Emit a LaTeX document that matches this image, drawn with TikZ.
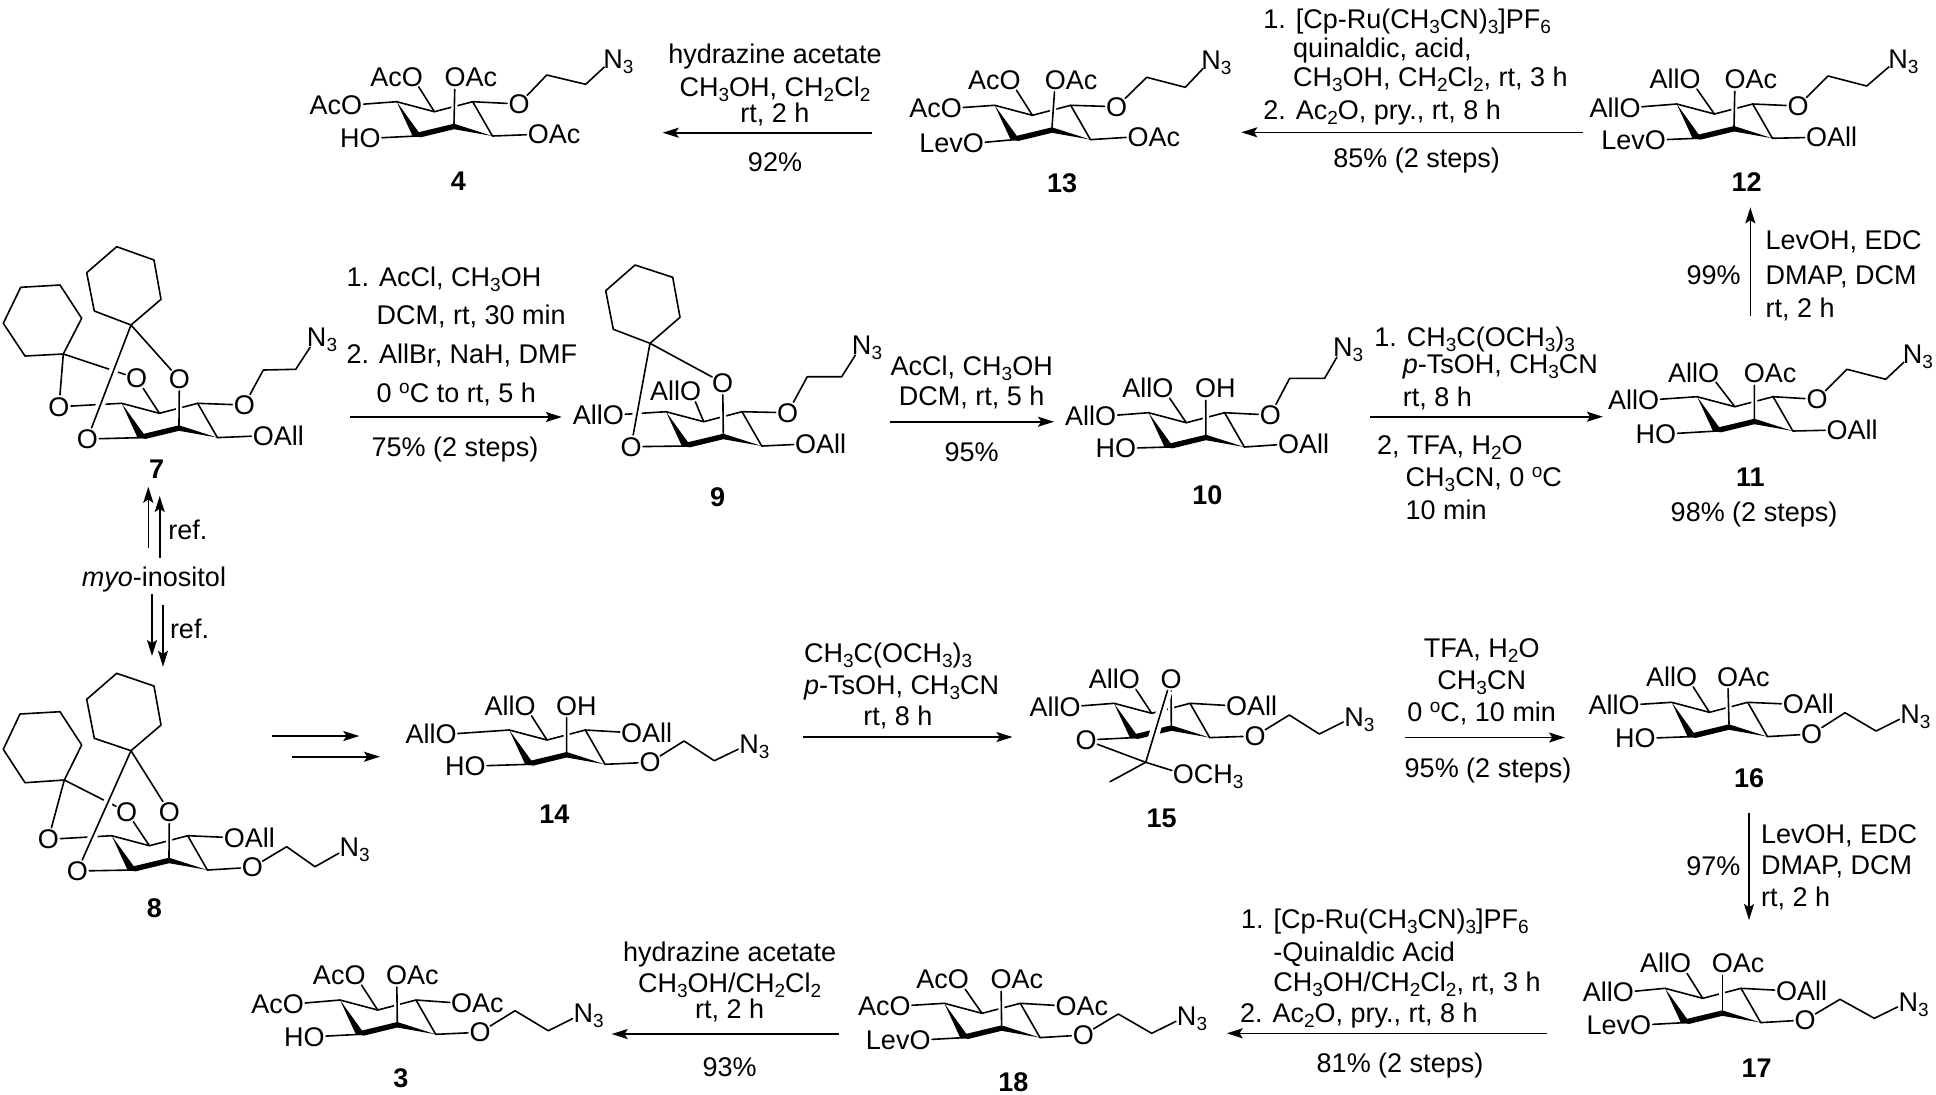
\documentclass[tikz,border=0pt]{standalone}
\usepackage{fontspec}
\setmainfont{Liberation Sans}
\usetikzlibrary{arrows.meta}
\newcommand{\chemfont}{\fontsize{13.5pt}{16pt}\selectfont}
\newcommand{\sbs}[1]{\raisebox{-2.6pt}{\fontsize{9.5pt}{10pt}\selectfont #1}}
\newcommand{\sps}[1]{\raisebox{4.6pt}{\fontsize{9.5pt}{10pt}\selectfont #1}}
\tikzset{
  x=0.5pt,y=-0.5pt,
  atom/.style={circle,inner sep=0pt,outer sep=0pt,minimum size=12pt,font=\chemfont},
  sidetext/.style={inner sep=0pt,outer sep=0pt,font=\chemfont},
  rtext/.style={inner sep=0pt,outer sep=0pt,font=\chemfont},
  cmpd/.style={inner sep=0pt,outer sep=0pt,font=\chemfont\bfseries},
  bond/.style={line width=0.8pt,line join=round,line cap=round},
  halo/.style={bond,preaction={draw=white,line width=3pt}},
  bighalo/.style={bond,preaction={draw=white,line width=#1}},
  rxnarrow/.style={line width=0.8pt,-{Stealth[length=8pt,width=5pt,inset=1.6pt]}},
}
% atoms
\newcommand{\atomO}[3]{\node[atom] (#1) at (#2,#3) {\makebox[0pt]{O}};}
\newcommand{\atomL}[4]{\atomO{#1}{#2}{#3}\node[sidetext,anchor=base east] (#1s) at ([xshift=-5.25pt]#1.base) {#4};}
\newcommand{\atomR}[4]{\atomO{#1}{#2}{#3}\node[sidetext,anchor=base west] (#1s) at ([xshift=5.25pt]#1.base) {#4};}
\newcommand{\atomN}[3]{\node[atom] (#1) at (#2,#3) {\makebox[0pt]{N}};\node[sidetext,anchor=base west] (#1s) at ([xshift=4.9pt]#1.base) {\sbs{3}};}
% ring coordinates
\newcommand{\ringat}[3]{%
  \coordinate (#1a) at (#2,#3);
  \coordinate (#1b) at ([shift={(37.7,10)}]#2,#3);
  \coordinate (#1c) at ([shift={(76,0)}]#2,#3);
  \coordinate (#1d) at ([shift={(95.7,34.3)}]#2,#3);
  \coordinate (#1e) at ([shift={(57.3,22)}]#2,#3);
  \coordinate (#1f) at ([shift={(20,34.3)}]#2,#3);
  \coordinate (#1p) at ([shift={(22,30.5)}]#2,#3);
  \coordinate (#1q) at ([shift={(57.3,27.5)}]#2,#3);
  \coordinate (#1r) at ([shift={(24,35.6)}]#2,#3);
  \coordinate (#1s) at ([shift={(16,34.6)}]#2,#3);
}
% chair bonds; nodes #1L,T,M,R,D,F must exist
\newcommand{\chairbonds}[1]{%
  \draw[bond] (#1a) -- (#1b) -- (#1c) -- (#1d);
  \draw[bond] (#1a) -- (#1L);
  \draw[bond] (#1b) -- (#1T);
  \draw[bond] (#1c) -- (#1R);
  \draw[bond] (#1d) -- (#1D);
  \draw[bond] (#1f) -- (#1F);
  \draw[halo] (#1e) -- (#1M);
  \fill[line join=round] (#1a) -- (#1p) -- (#1e) -- (#1d) -- (#1q) -- (#1r) -- (#1s) -- cycle;
}
\newcommand{\chainN}[7]{% mol, from node, p1, p2, Nx,Ny
  \coordinate (#1u) at (#3,#4);\coordinate (#1v) at (#5,#6);
  \draw[bond] (#2) -- (#1u) -- (#1v) -- (#1N);
}
\newcommand{\rtxt}[5]{\node[rtext,anchor=#4] (#1) at ([yshift=-4.85pt]#2,#3) {#5};}
\newcommand{\cmpdlabel}[4]{\node[cmpd] (#1) at (#2,#3) {#4};}
\newcommand{\rxn}[5]{\coordinate (#1s) at (#2,#3);\coordinate (#1t) at (#4,#5);\draw[rxnarrow] (#1s) -- (#1t);}
\begin{document}
\begin{tikzpicture}
\useasboundingbox (0,0) rectangle (1936,1094);

% ---------- 4
\ringat{mf}{396.7}{101.7}
\atomL{mfL}{351.7}{105}{Ac}\atomL{mfT}{412.3}{76.7}{Ac}\atomR{mfM}{455}{77.3}{Ac}
\atomO{mfR}{519}{104}\atomR{mfD}{538.3}{134.3}{Ac}\atomL{mfF}{370}{138.3}{H}
\atomN{mfN}{613}{59}
\chairbonds{mf}\chainN{mf}{mfR}{546.7}{75}{585.7}{84.3}{}
\cmpdlabel{cFour}{458.3}{181.7}{4}

% ---------- 13
\ringat{mg}{994.7}{105.3}
\atomL{mgL}{951.3}{108.3}{Ac}\atomL{mgT}{1010}{80}{Ac}\atomR{mgM}{1055.3}{80}{Ac}
\atomO{mgR}{1116.7}{106.7}\atomR{mgD}{1138}{136.7}{Ac}\atomL{mgF}{973.3}{143.3}{Lev}
\atomN{mgN}{1211}{60}
\chairbonds{mg}\chainN{mg}{mgR}{1146.7}{77.3}{1185.3}{87.3}{}
\cmpdlabel{cThirteen}{1062}{183}{13}

% ---------- 12
\ringat{mh}{1676.7}{104}
\atomL{mhL}{1630}{107.7}{All}\atomL{mhT}{1690}{79.3}{All}\atomR{mhM}{1735}{79.3}{Ac}
\atomO{mhR}{1798}{106}\atomR{mhD}{1816.7}{137.3}{All}\atomL{mhF}{1655.3}{140}{Lev}
\atomN{mhN}{1898}{59}
\chairbonds{mh}\chainN{mh}{mhR}{1828}{76}{1866.7}{86}{}
\cmpdlabel{cTwelve}{1746.7}{181.7}{12}

% ---------- 11
\ringat{mi}{1697.1}{396.7}
\atomL{miL}{1648.6}{400}{All}\atomL{miT}{1708.6}{372.7}{All}\atomR{miM}{1754.3}{373.3}{Ac}
\atomO{miR}{1817}{399.3}\atomR{miD}{1837}{430}{All}\atomL{miF}{1665.7}{434}{H}
\atomN{miN}{1912.6}{354}
\chairbonds{mi}\chainN{mi}{miR}{1847}{369.3}{1885.7}{379.3}{}
\cmpdlabel{cEleven}{1750.3}{476.7}{11}

% ---------- 10
\ringat{mj}{1148.6}{412.7}
\atomL{mjL}{1105.7}{416}{All}\atomL{mjT}{1162.9}{388.3}{All}\atomR{mjM}{1205.7}{388.3}{H}
\atomO{mjR}{1270.3}{415}\atomR{mjD}{1288.6}{444}{All}\atomL{mjF}{1125.7}{448.3}{H}
\atomN{mjN}{1342.9}{346.7}
\chairbonds{mj}\chainN{mj}{mjR}{1289.7}{378.3}{1324.6}{378.3}{}
\cmpdlabel{cTen}{1207.4}{495}{10}

% ---------- 9
\ringat{mk}{666}{411.7}
\atomL{mkL}{613.3}{415}{All}\atomL{mkT}{690.7}{390.7}{All}\atomO{mkM}{722.7}{382.7}
\atomO{mkR}{787.7}{412.7}\atomR{mkD}{805.7}{444}{All}\atomO{mkF}{631}{446.7}
\atomN{mkN}{861.7}{345}
\chairbonds{mk}\chainN{mk}{mkR}{807.3}{376.7}{841.7}{376.7}{}
\coordinate (mkspiro) at (650,343.3);
\draw[bighalo=4.5pt] (mkspiro) -- (mkF);
\draw[bond] (mkspiro) -- (mkM);
\draw[bond] (mkspiro) -- (613.3,329.3) -- (605.7,290.7) -- (635,265) -- (672.7,277.3) -- (680,317.3) -- cycle;
\cmpdlabel{cNine}{717.7}{496.7}{9}

% ---------- 7
\ringat{ma}{121.7}{403.3}
\atomO{maL}{59}{406.7}\atomO{maT}{136.7}{378.3}\atomO{maM}{179.3}{379}
\atomO{maR}{244.3}{405}\atomR{maD}{263.3}{435.7}{All}\atomO{maF}{87.3}{439}
\atomN{maN}{316.7}{337.3}
\chairbonds{ma}\chainN{ma}{maR}{263.3}{370}{295.7}{369.3}{}
\coordinate (masp) at (63.3,354);
\coordinate (maspt) at (131,325);
\draw[bond] (masp) -- (maL);
\draw[bond] (masp) -- (maT);
\draw[bighalo=4.5pt] (maspt) -- (maF);
\draw[bond] (maspt) -- (maM);
\draw[bond] (masp) -- (25,356) -- (3.3,323.3) -- (20.7,287.3) -- (60,285) -- (81.7,318.3) -- cycle;
\draw[bond] (maspt) -- (94.3,311) -- (86.7,272.7) -- (116.7,246.7) -- (154,260) -- (161,299.3) -- cycle;
\cmpdlabel{cSeven}{156.7}{469}{7}

% ---------- 8
\ringat{mb}{111.7}{835.7}
\atomO{mbL}{48.3}{839.3}\atomO{mbT}{126.7}{811.7}\atomO{mbM}{169.3}{811.7}
\atomR{mbR}{234.3}{837.7}{All}\atomO{mbD}{252.3}{867.3}\atomO{mbF}{77.3}{871}
\atomN{mbN}{349.3}{847.3}
\chairbonds{mb}\chainN{mb}{mbD}{286.7}{846.7}{315}{866.7}{}
\coordinate (mbsp) at (64.3,780);
\coordinate (mbspt) at (131,750.7);
\draw[bond] (mbsp) -- (mbL);
\draw[bond] (mbsp) -- (mbT);
\draw[bighalo=4.5pt] (mbspt) -- (mbF);
\draw[bond] (mbspt) -- (mbM);
\draw[bond] (mbsp) -- (25,782.7) -- (3.3,749.3) -- (20,714) -- (60,711.7) -- (81.7,745) -- cycle;
\draw[bond] (mbspt) -- (94.3,738.3) -- (86.7,699.3) -- (116.7,673.3) -- (154,686) -- (161,725) -- cycle;
\cmpdlabel{cEight}{154.3}{908.3}{8}

% ---------- 14
\ringat{mc}{509.3}{730}
\atomL{mcL}{446}{734.3}{All}\atomL{mcT}{525}{705.7}{All}\atomR{mcM}{566.7}{705.7}{H}
\atomR{mcR}{631.7}{732.7}{All}\atomO{mcD}{650}{762.3}\atomL{mcF}{475}{766}{H}
\atomN{mcN}{749}{744}
\chairbonds{mc}\chainN{mc}{mcD}{684}{741}{714.3}{760.7}{}
\cmpdlabel{cFourteen}{554.3}{814}{14}

% ---------- 15
\ringat{md}{1114}{703.3}
\atomL{mdL}{1070}{706.7}{All}\atomL{mdT}{1129.3}{679.3}{All}\atomO{mdM}{1171}{679}
\atomR{mdR}{1236.7}{706}{All}\atomO{mdD}{1255}{736}\atomO{mdF}{1086}{740}
\atomR{mdO}{1183.3}{774}{CH\sbs{3}}
\atomN{mdN}{1354}{716.7}
\chairbonds{md}\chainN{md}{mdD}{1289.3}{715}{1319.3}{734}{}
\coordinate (mdC) at (1145.7,762.3);
\coordinate (mdMe) at (1110,781.7);
\draw[bighalo=5pt] (mdC) -- (mdM);
\draw[bond] (mdF) -- (mdC);
\draw[bond] (mdC) -- (mdO);
\draw[bond] (mdC) -- (mdMe);
\cmpdlabel{cFifteen}{1161.7}{818}{15}

% ---------- 16
\ringat{mm}{1671.7}{702.3}
\atomL{mmL}{1629}{705}{All}\atomL{mmT}{1686.7}{676.7}{All}\atomR{mmM}{1727.7}{676.7}{Ac}
\atomR{mmR}{1793.3}{704.3}{All}\atomO{mmD}{1811.7}{734}\atomL{mmF}{1645}{738.3}{H}
\atomN{mmN}{1910}{714}
\chairbonds{mm}\chainN{mm}{mmD}{1845}{712.7}{1876}{731}{}
\cmpdlabel{cSixteen}{1749}{778.3}{16}

% ---------- 17
\ringat{mn}{1665}{988.3}
\atomL{mnL}{1623.3}{992.3}{All}\atomL{mnT}{1680.7}{963.3}{All}\atomR{mnM}{1722.3}{963.3}{Ac}
\atomR{mnR}{1786.7}{990.7}{All}\atomO{mnD}{1805}{1020}\atomL{mnF}{1640.7}{1025}{Lev}
\atomN{mnN}{1908.3}{1001.7}
\chairbonds{mn}\chainN{mn}{mnD}{1840}{999.3}{1874.3}{1018.3}{}
\cmpdlabel{cSeventeen}{1756.7}{1067.7}{17}

% ---------- 18
\ringat{mo}{944.3}{1003.3}
\atomL{moL}{900}{1006}{Ac}\atomL{moT}{958.3}{979.3}{Ac}\atomR{moM}{1001}{979.3}{Ac}
\atomR{moR}{1066}{1006}{Ac}\atomO{moD}{1083.3}{1035}\atomL{moF}{920}{1040}{Lev}
\atomN{moN}{1186.7}{1016}
\chairbonds{mo}\chainN{mo}{moD}{1118.3}{1014}{1151.7}{1033.3}{}
\cmpdlabel{cEighteen}{1013.3}{1081.7}{18}

% ---------- 3
\ringat{mq}{340}{1000}
\atomL{mqL}{293.3}{1004}{Ac}\atomL{mqT}{355}{975}{Ac}\atomR{mqM}{396.7}{975}{Ac}
\atomR{mqR}{461.7}{1003.3}{Ac}\atomO{mqD}{480}{1032.3}\atomL{mqF}{314}{1036.7}{H}
\atomN{mqN}{583.3}{1013.3}
\chairbonds{mq}\chainN{mq}{mqD}{515}{1010.7}{548.3}{1030.7}{}
\cmpdlabel{cThree}{401}{1078.3}{3}

% ---------- reaction arrows
\rxn{rA}{871.7}{132.7}{662.7}{132.7}
\rxn{rB}{1583.3}{132.3}{1241.3}{132.3}
\rxn{rC}{350}{417}{561.8}{417}
\rxn{rD}{890}{421.7}{1054}{421.7}
\rxn{rE}{1370.3}{416.7}{1602.9}{416.7}
\rxn{rF}{1750.3}{316}{1750.3}{207.4}
\rxn{rG}{802.6}{737}{1012.5}{737}
\rxn{rH}{1405}{737.5}{1565}{737.5}
\rxn{rI}{1546.7}{1033.3}{1226.7}{1033.3}
\rxn{rJ}{839}{1034}{611.7}{1034}
\rxn{rK}{1749}{812.7}{1749}{920}
\rxn{rL}{271.7}{736}{359.3}{736}
\rxn{rM}{292.3}{756.7}{380}{756.7}
\rxn{rN}{148.3}{548.3}{148.3}{486.7}
\rxn{rO}{159.7}{558.3}{159.7}{496}
\rxn{rP}{152}{594.3}{152}{656}
\rxn{rQ}{163}{605}{163}{666.7}

% ---------- reagent texts
\rtxt{tA1}{775}{54}{base}{hydrazine acetate}
\rtxt{tA2}{775}{86.4}{base}{CH\sbs{3}OH, CH\sbs{2}Cl\sbs{2}}
\rtxt{tA3}{775}{112.4}{base}{rt, 2 h}
\rtxt{tA4}{775}{161.7}{base}{92\%}

\rtxt{tB1}{1263.3}{18.3}{base west}{1. [Cp-Ru(CH\sbs{3}CN)\sbs{3}]PF\sbs{6}}
\rtxt{tB2}{1293}{47.7}{base west}{quinaldic, acid,}
\rtxt{tB3}{1293}{77}{base west}{CH\sbs{3}OH, CH\sbs{2}Cl\sbs{2}, rt, 3 h}
\rtxt{tB4}{1263.3}{110}{base west}{2. Ac\sbs{2}O, pry., rt, 8 h}
\rtxt{tB5}{1416.7}{158}{base}{85\% (2 steps)}

\rtxt{tC1}{346.7}{276.7}{base west}{1. AcCl, CH\sbs{3}OH}
\rtxt{tC2}{376.7}{315}{base west}{DCM, rt, 30 min}
\rtxt{tC3}{346.7}{354}{base west}{2. AllBr, NaH, DMF}
\rtxt{tC4}{376.7}{393}{base west}{0 \sps{o}C to rt, 5 h}
\rtxt{tC5}{371.7}{446.7}{base west}{75\% (2 steps)}

\rtxt{tD1}{971.7}{365.5}{base}{AcCl, CH\sbs{3}OH}
\rtxt{tD2}{971.7}{396}{base}{DCM, rt, 5 h}
\rtxt{tD3}{971.7}{452}{base}{95\%}

\rtxt{tE1}{1374.3}{336.7}{base west}{1. CH\sbs{3}C(OCH\sbs{3})\sbs{3}}
\rtxt{tE2}{1402.9}{364}{base west}{\textit{p}-TsOH, CH\sbs{3}CN}
\rtxt{tE3}{1402.9}{396.7}{base west}{rt, 8 h}
\rtxt{tE4}{1377}{445}{base west}{2, TFA, H\sbs{2}O}
\rtxt{tE5}{1405.7}{476.7}{base west}{CH\sbs{3}CN, 0 \sps{o}C}
\rtxt{tE6}{1405.7}{510}{base west}{10 min}
\rtxt{tE7}{1754}{511.7}{base}{98\% (2 steps)}

\rtxt{tF1}{1713.7}{275}{base}{99\%}
\rtxt{tF2}{1765.6}{239.5}{base west}{LevOH, EDC}
\rtxt{tF3}{1765.6}{275}{base west}{DMAP, DCM}
\rtxt{tF4}{1765.6}{307.5}{base west}{rt, 2 h}

\rtxt{tG1}{804}{653}{base west}{CH\sbs{3}C(OCH\sbs{3})\sbs{3}}
\rtxt{tG2}{804}{685}{base west}{\textit{p}-TsOH, CH\sbs{3}CN}
\rtxt{tG3}{898}{716}{base}{rt, 8 h}

\rtxt{tH1}{1481.7}{648}{base}{TFA, H\sbs{2}O}
\rtxt{tH2}{1481.7}{680}{base}{CH\sbs{3}CN}
\rtxt{tH3}{1481.7}{712}{base}{0 \sps{o}C, 10 min}
\rtxt{tH4}{1488}{768}{base}{95\% (2 steps)}

\rtxt{tI1}{1241}{918.3}{base west}{1. [Cp-Ru(CH\sbs{3}CN)\sbs{3}]PF\sbs{6}}
\rtxt{tI2}{1273.3}{951.7}{base west}{-Quinaldic Acid}
\rtxt{tI3}{1273.3}{981.7}{base west}{CH\sbs{3}OH/CH\sbs{2}Cl\sbs{2}, rt, 3 h}
\rtxt{tI4}{1240}{1013}{base west}{2. Ac\sbs{2}O, pry., rt, 8 h}
\rtxt{tI5}{1400}{1063}{base}{81\% (2 steps)}

\rtxt{tJ1}{729.7}{952}{base}{hydrazine acetate}
\rtxt{tJ2}{729.7}{983}{base}{CH\sbs{3}OH/CH\sbs{2}Cl\sbs{2}}
\rtxt{tJ3}{729.7}{1009}{base}{rt, 2 h}
\rtxt{tJ4}{729.7}{1067}{base}{93\%}

\rtxt{tK1}{1713.3}{866}{base}{97\%}
\rtxt{tK2}{1761}{833.3}{base west}{LevOH, EDC}
\rtxt{tK3}{1761}{865}{base west}{DMAP, DCM}
\rtxt{tK4}{1761}{896.7}{base west}{rt, 2 h}

\rtxt{tM0}{154}{576.7}{base}{\textit{myo}-inositol}
\rtxt{tM1}{168.3}{530}{base west}{ref.}
\rtxt{tM2}{170}{628.3}{base west}{ref.}
\end{tikzpicture}
\end{document}
